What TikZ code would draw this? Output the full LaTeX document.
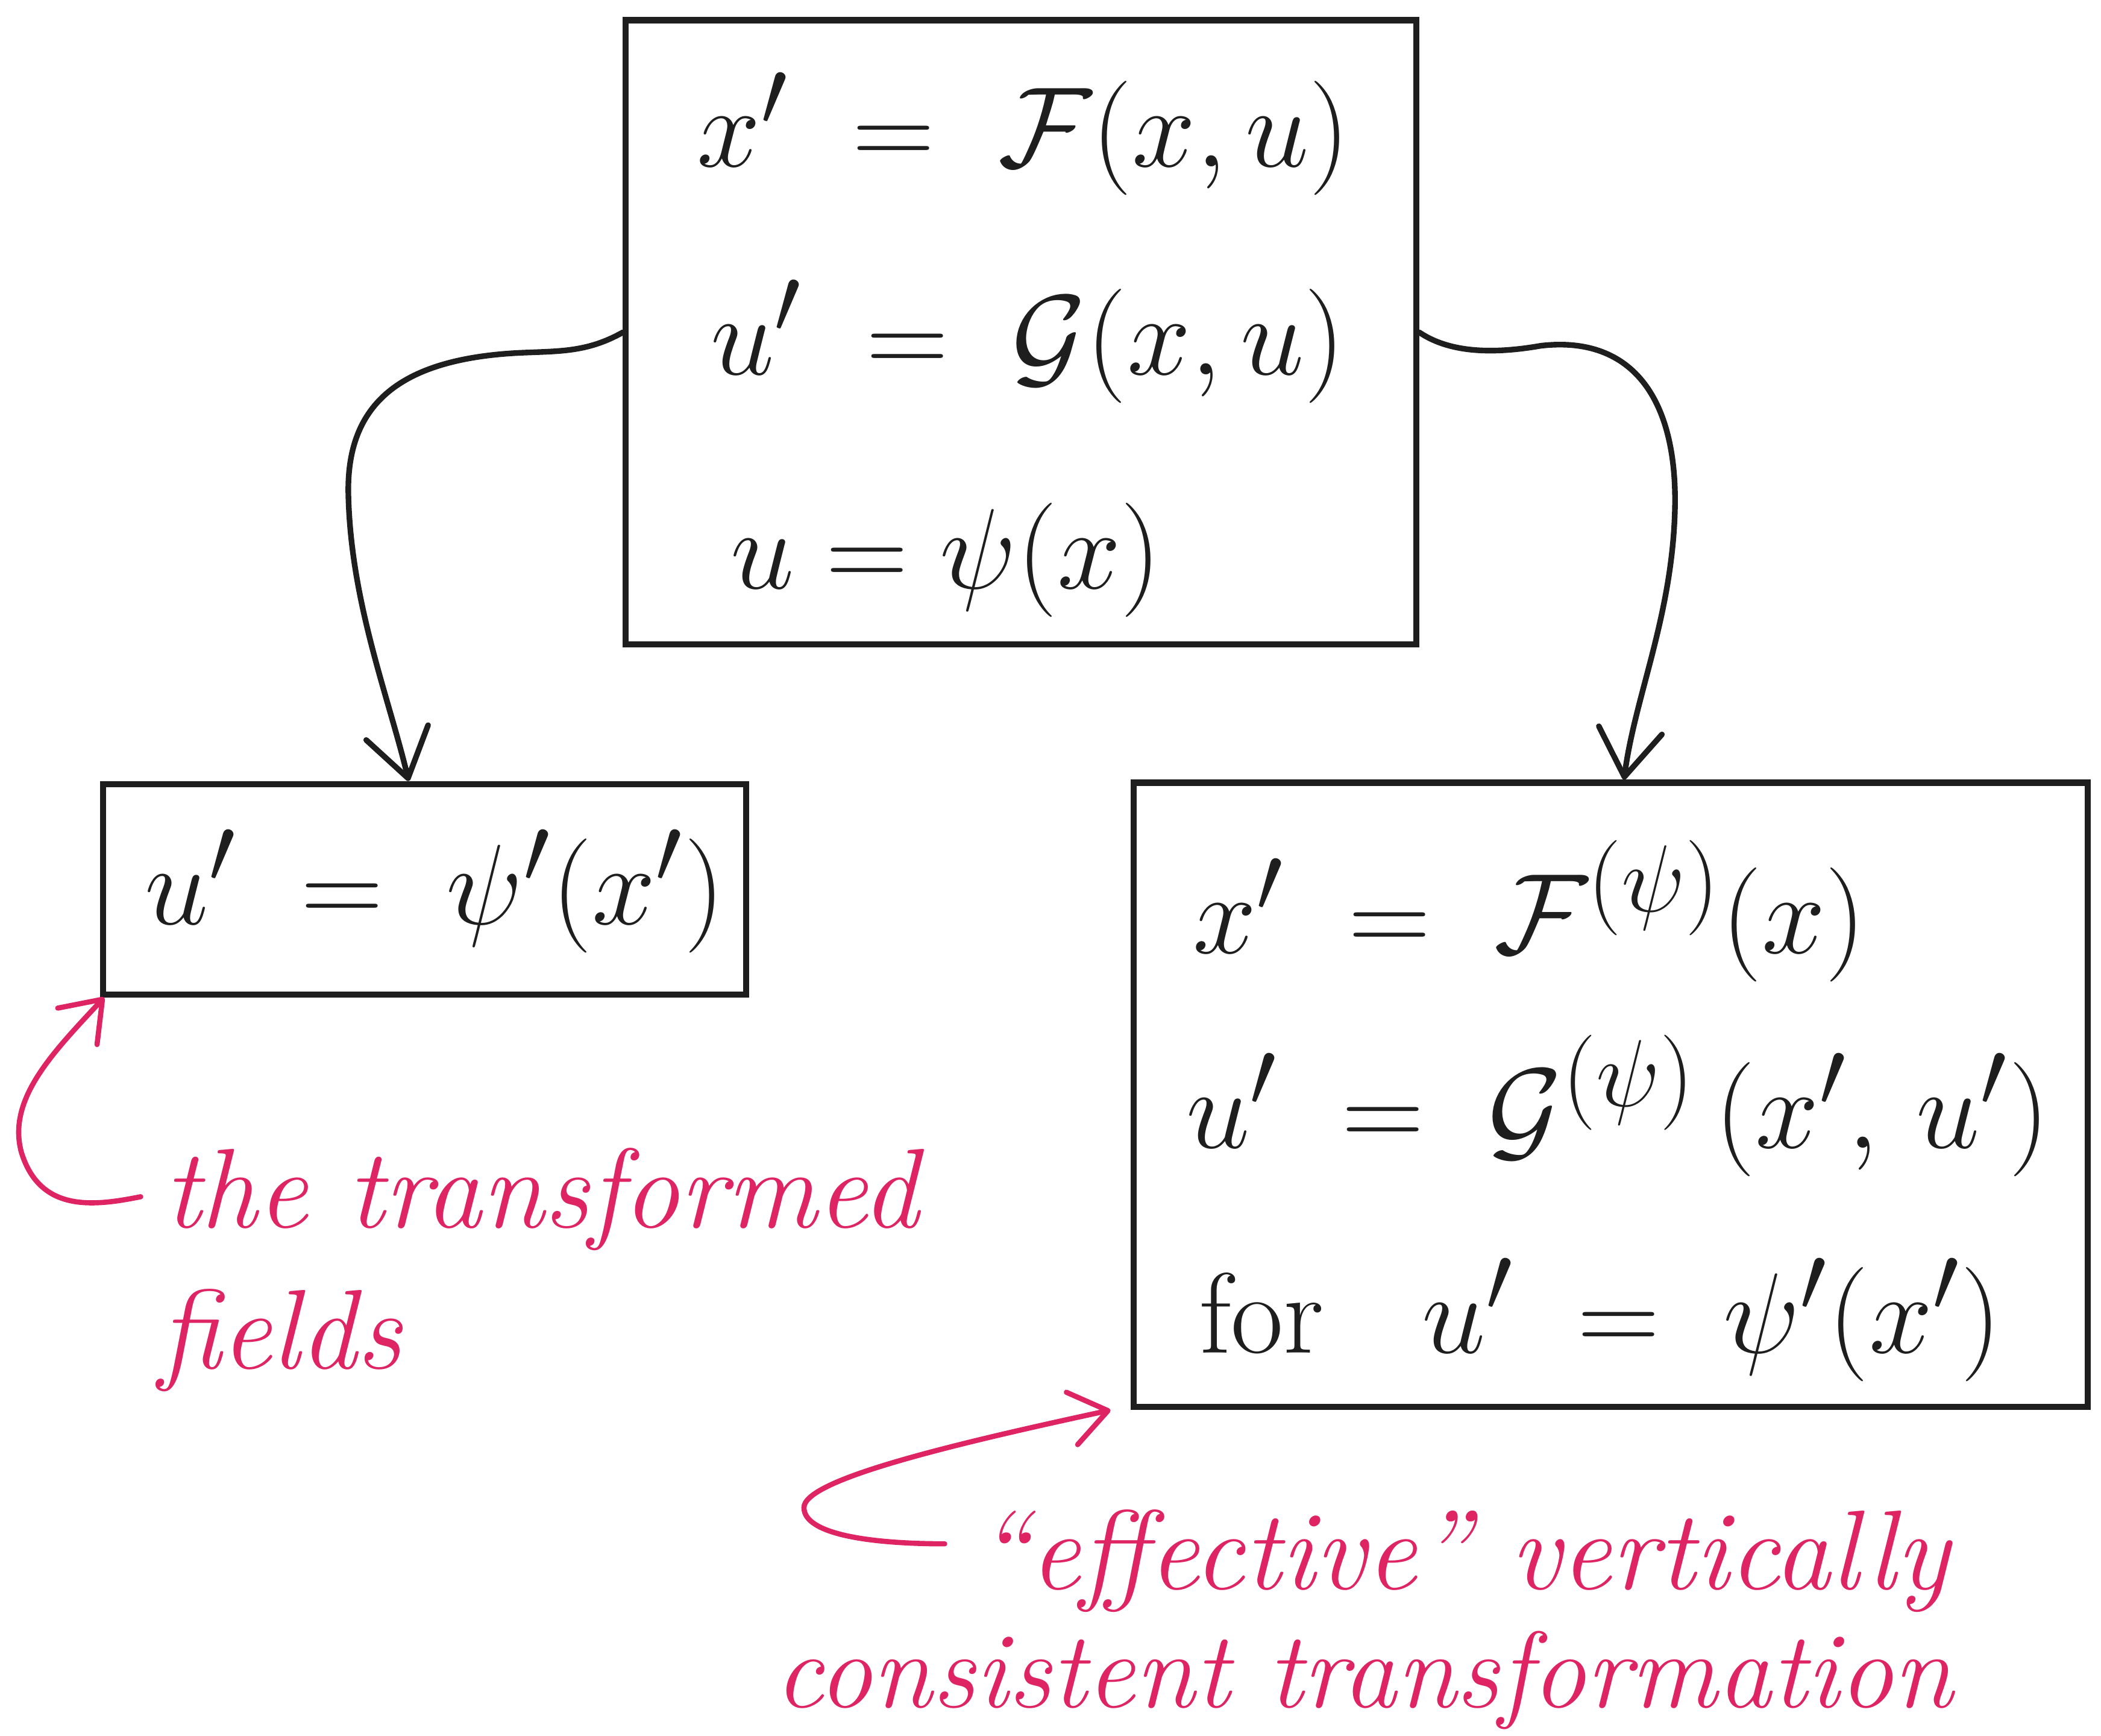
\documentclass[tikz,border=0pt]{standalone}
\usepackage{fontspec}
\usepackage{amsmath}
\usetikzlibrary{arrows.meta}
\definecolor{ink}{RGB}{30,30,30}
\definecolor{pinkink}{RGB}{222,36,98}
\newcommand\bigeq[1]{\scalebox{1.95}{#1}}
\begin{document}
\begin{tikzpicture}[x=0.02cm,y=-0.02cm,
 box/.style={draw=ink, line width=2.6pt, inner sep=0pt},
 eq/.style={text=ink, anchor=west, inner sep=0pt, font=\fontsize{24.88}{30}\selectfont},
 conn/.style={draw=ink, line width=2.4pt, line cap=round, -{Straight Barb[length=0.7cm,width=0.95cm,round]}},
 note/.style={draw=pinkink, line width=2.2pt, line cap=round, -{Straight Barb[length=0.55cm,width=0.8cm,round]}},
 handtxt/.style={text=pinkink, anchor=west, inner sep=0pt, font=\fontsize{48}{56}\selectfont\itshape}]
\useasboundingbox (0,0) rectangle (1568,1295);
% boxes
\node[box, minimum width=11.8cm, minimum height=9.32cm] (top) at (762,248) {};
\node[box, minimum width=9.6cm, minimum height=3.14cm] (left) at (317,663.5) {};
\node[box, minimum width=14.24cm, minimum height=9.32cm] (right) at (1202,817) {};
% equations top
\node[eq] (e1) at (520,100) {\bigeq{$x' \;=\; \mathcal{F}(x,u)$}};
\node[eq] (e2) at (530,255) {\bigeq{$u' \;=\; \mathcal{G}(x,u)$}};
\node[eq] (e3) at (545,418) {\bigeq{$u = \psi(x)$}};
% left box
\node[eq] (e4) at (108,665) {\bigeq{$u' \;=\; \psi'(x')$}};
% right box
\node[eq] (e5) at (890,680) {\bigeq{$x' \;=\; \mathcal{F}^{(\psi)}(x)$}};
\node[eq] (e6) at (885,825) {\bigeq{$u' \;=\; \mathcal{G}^{(\psi)}\,(x',\,u')$}};
\node[eq] (e7) at (895,985) {\bigeq{for\;\; $u' \;=\; \psi'(x')$}};
% notes
\node[handtxt] (t1) at (122,895) {the transformed};
\node[handtxt] (t2) at (118,1000) {fields};
\node[handtxt] (t3) at (728,1165) {“effective” vertically};
\node[handtxt, font=\fontsize{46}{54}\selectfont\itshape] (t4) at (578,1254) {consistent transformation};
% connectors
\draw[conn] (top.west) .. controls (440,262) and (420,262) .. (395,263)
  .. controls (300,266) and (258,300) .. (260,370)
  .. controls (262,450) and (290,520) .. ([xshift=-0.24cm]left.north);
\draw[conn] (top.east) .. controls (1080,262) and (1110,265) .. (1150,258)
  .. controls (1220,250) and (1252,300) .. (1250,380)
  .. controls (1248,460) and (1220,520) .. ([xshift=0.2cm]right.north);
\draw[note] ([xshift=-0.34cm,yshift=0.04cm]t1.west) .. controls (70,900) and (30,905) .. (16,860)
  .. controls (5,820) and (40,785) .. ([xshift=0.06cm]left.south west);
\draw[note] ([xshift=-0.46cm,yshift=0.26cm]t3.west) .. controls (650,1152) and (600,1145) .. (600,1125)
  .. controls (600,1105) and (700,1080) .. ([xshift=-0.3cm]right.south west);
\end{tikzpicture}
\end{document}
